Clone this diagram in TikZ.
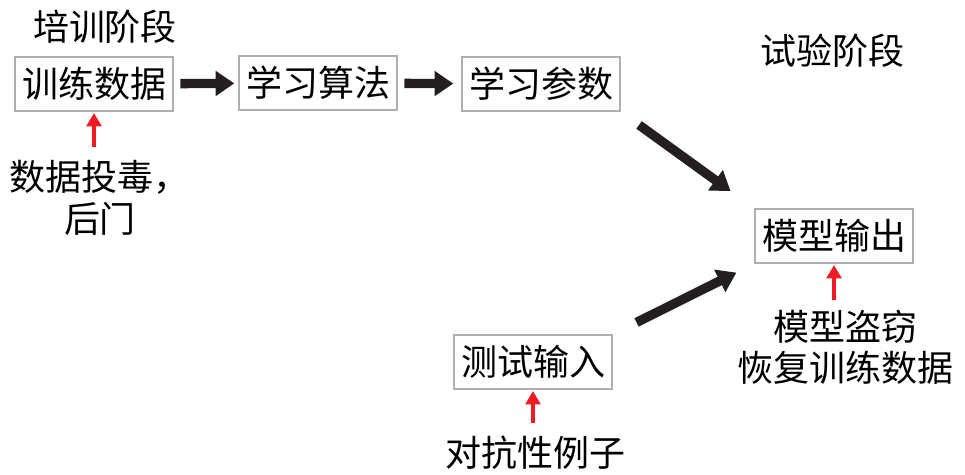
\documentclass[tikz,border=0pt]{standalone}
\usepackage{fontspec}
\setmainfont{Noto Sans CJK SC}
\usetikzlibrary{arrows.meta}
\definecolor{boxgray}{RGB}{175,175,175}
\definecolor{attackred}{RGB}{237,28,36}
\definecolor{inkblack}{RGB}{35,31,32}
\newcommand{\cnsize}{\fontsize{27pt}{31pt}\selectfont}
\tikzset{
  stagebox/.style={draw=boxgray, line width=1.5pt, inner xsep=5pt, minimum height=40pt, font=\cnsize},
  cntext/.style={font=\cnsize, align=center, inner sep=2pt},
  bigarrow/.style={draw=inkblack, line width=7pt, -{Triangle[length=14pt,width=18pt]}},
  redarrow/.style={draw=attackred, line width=3pt, -{Triangle[length=10pt,width=11pt]}}
}

\begin{document}
\begin{tikzpicture}[x=0.75pt, y=-0.75pt]
    \useasboundingbox (0,0) rectangle (965,475);

    % stage titles
    \node[cntext] (trainstage) at (105,27) {培训阶段};
    \node[cntext] (teststage) at (832,51) {试验阶段};

    \node[stagebox] (train) at (94,84) {训练数据};
    \node[stagebox] (algo) at (318,83) {学习算法};
    \node[stagebox] (param) at (541,84) {学习参数};
    \node[stagebox] (output) at (834,236) {模型输出};
    \node[stagebox] (testin) at (533,362) {测试输入};

    \draw[bigarrow, shorten <=5pt, shorten >=3pt] (train) -- (algo);
    \draw[bigarrow, shorten <=5pt, shorten >=6pt] (algo) -- (param);
    \draw[bigarrow, shorten <=17pt, shorten >=22pt] (param.south east) -- (output.north west);
    \draw[bigarrow, shorten <=20pt, shorten >=15pt] (testin.north east) -- (output.south west);

    % attacks
    \node[cntext] (poison) at (100,198) {数据投毒，\\后门};
    \node[cntext] (steal) at (845,347) {模型盗窃\\恢复训练数据};
    \node[cntext] (adv) at (535,453) {对抗性例子};

    \draw[redarrow, shorten <=8pt, shorten >=1pt] (train.south |- poison.north) -- (train.south);
    \draw[redarrow, shorten <=5pt, shorten >=1pt] (output.south |- steal.north) -- (output.south);
    \draw[redarrow, shorten <=8pt, shorten >=1pt] (testin.south |- adv.north) -- (testin.south);
\end{tikzpicture}
\end{document}
